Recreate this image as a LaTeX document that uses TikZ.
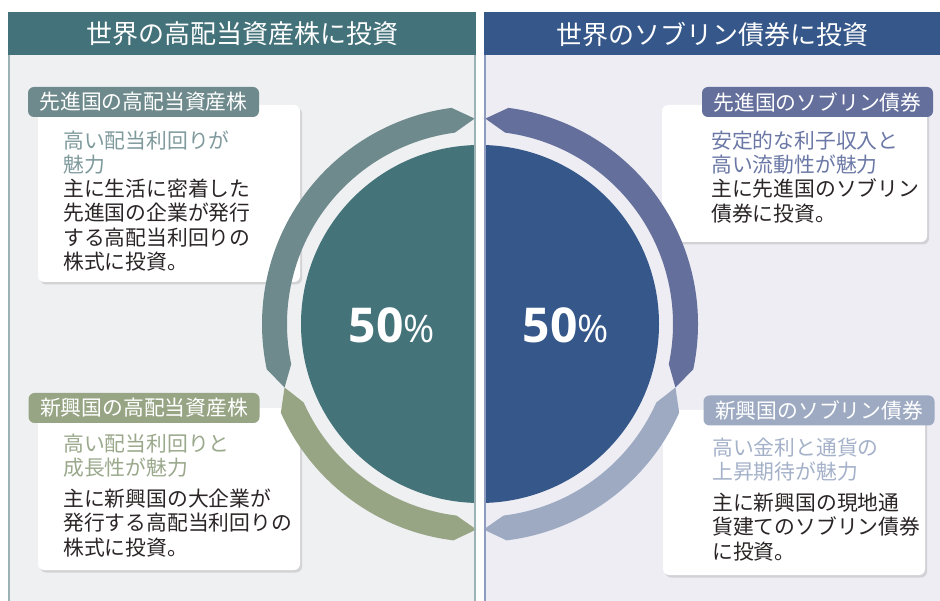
\documentclass[tikz,border=0pt]{standalone}
\usepackage{fontspec}
\setmainfont{Noto Sans CJK JP}
\newfontfamily\numfont{Open Sans}
\usetikzlibrary{shadows}

\definecolor{stockhead}{HTML}{44727A}
\definecolor{stockdisc}{HTML}{44737A}
\definecolor{stockpanel}{HTML}{EFF0F2}
\definecolor{stockline}{HTML}{9DB2B5}
\definecolor{bondhead}{HTML}{355789}
\definecolor{bonddisc}{HTML}{35578A}
\definecolor{bondpanel}{HTML}{EDEDF3}
\definecolor{bondline}{HTML}{8E9CC0}
\definecolor{advstock}{HTML}{6E8A8C}
\definecolor{emstock}{HTML}{97A585}
\definecolor{advbond}{HTML}{646F9C}
\definecolor{embond}{HTML}{9DAAC2}
\definecolor{advstocktext}{HTML}{7F9A9D}
\definecolor{emstocktext}{HTML}{9AA88B}
\definecolor{advbondtext}{HTML}{6B78A6}
\definecolor{embondtext}{HTML}{A4B1C9}
\definecolor{inkblack}{HTML}{2B2526}

% one piece of the outer ring, pointed at both ends
\newcommand{\ringpart}[3]{%
  \fill[#3] (#1:218) arc[start angle=#1, end angle=#2, radius=218]
    -- (#2+6:205.5) -- (#2:193) arc[start angle=#2, end angle=#1, radius=193]
    -- (#1-6:205.5) -- cycle;}

\begin{document}
\begin{tikzpicture}[x=1pt, y=-1pt,
  tag/.style={rounded corners=6pt, minimum width=231pt, minimum height=30pt, inner sep=0pt, text=white, font=\fontsize{20.8}{24}\selectfont},
  card/.style={fill=white, rounded corners=6pt, inner sep=0pt, drop shadow={shadow xshift=2pt, shadow yshift=-2.5pt, opacity=0.25}},
  lead/.style={anchor=north west, align=left, inner sep=0pt, font=\fontsize{20.8}{24.4}\selectfont},
  body/.style={lead, text=inkblack},
  head/.style={text=white, inner sep=0pt, font=\fontsize{26}{26}\selectfont},
  pct/.style={text=white, inner sep=0pt, font=\numfont\bfseries\fontsize{48}{48}\selectfont}]

\useasboundingbox (0,0) rectangle (940,601);

\draw[fill=stockpanel, draw=stockline, line width=1.2pt] (9,13) rectangle (475,602);
\draw[fill=bondpanel, draw=bondline, line width=1.2pt] (485,13) rectangle (941,602);
\fill[stockhead] (8.4,12.4) rectangle (475.6,55);
\fill[bondhead] (484.4,12.4) rectangle (941,55);

\node[head] (stockhd) at (242,34) {世界の高配当資産株に投資};
\node[head] (bondhd) at (712.5,34) {世界のソブリン債券に投資};

\node[card, minimum width=262pt, minimum height=177pt] (advstockcard) at (169,193.5) {};
\node[card, minimum width=262pt, minimum height=162pt] (emstockcard) at (169,489) {};
\node[card, minimum width=265pt, minimum height=137pt] (advbondcard) at (794.5,173.5) {};
\node[card, minimum width=262pt, minimum height=165pt] (embondcard) at (794,492.5) {};

\node[tag, fill=advstock] (advstocktag) at (143.5,102) {先進国の高配当資産株};
\node[tag, fill=emstock] (emstocktag) at (144,408) {新興国の高配当資産株};
\node[tag, fill=advbond] (advbondtag) at (817.5,102) {先進国のソブリン債券};
\node[tag, fill=embond] (embondtag) at (819,410.5) {新興国のソブリン債券};

\node[lead, text=advstocktext] (advstocklead) at (63,130.6) {高い配当利回りが\\魅力};
\node[body] (advstockbody) at (63,178.6) {主に生活に密着した\\先進国の企業が発行\\する高配当利回りの\\株式に投資。};

\node[lead, text=emstocktext] (emstocklead) at (63,433.6) {高い配当利回りと\\成長性が魅力};
\node[body] (emstockbody) at (63,488.6) {主に新興国の大企業が\\発行する高配当利回りの\\株式に投資。};

\node[lead, text=advbondtext] (advbondlead) at (711,130.6) {安定的な利子収入と\\高い流動性が魅力};
\node[body] (advbondbody) at (711,178.6) {主に先進国のソブリン\\債券に投資。};

\node[lead, text=embondtext] (embondlead) at (712,437.6) {高い金利と通貨の\\上昇期待が魅力};
\node[body] (embondbody) at (712,492.6) {主に新興国の現地通\\貨建てのソブリン債券\\に投資。};

\begin{scope}[shift={(480,324)}, yscale=-1]
  \ringpart{97.5}{192}{advstock}
  \ringpart{204}{263}{emstock}
  \ringpart{-12}{82.5}{advbond}
  \ringpart{-83}{-24}{embond}
\end{scope}

\begin{scope}
  \clip (0,0) rectangle (475,601);
  \fill[stockdisc] (480,324) circle[radius=179];
\end{scope}
\begin{scope}
  \clip (485,0) rectangle (940,601);
  \fill[bonddisc] (480,324) circle[radius=179];
\end{scope}

\draw[stockline, line width=1.2pt] (475,55) -- (475,602);
\draw[bondline, line width=1.2pt] (485,55) -- (485,602);

\node[pct] (stockpct) at (392,325) {50{\mdseries\fontsize{38}{38}\selectfont\%}};
\node[pct] (bondpct) at (566,325) {50{\mdseries\fontsize{38}{38}\selectfont\%}};

\end{tikzpicture}
\end{document}
